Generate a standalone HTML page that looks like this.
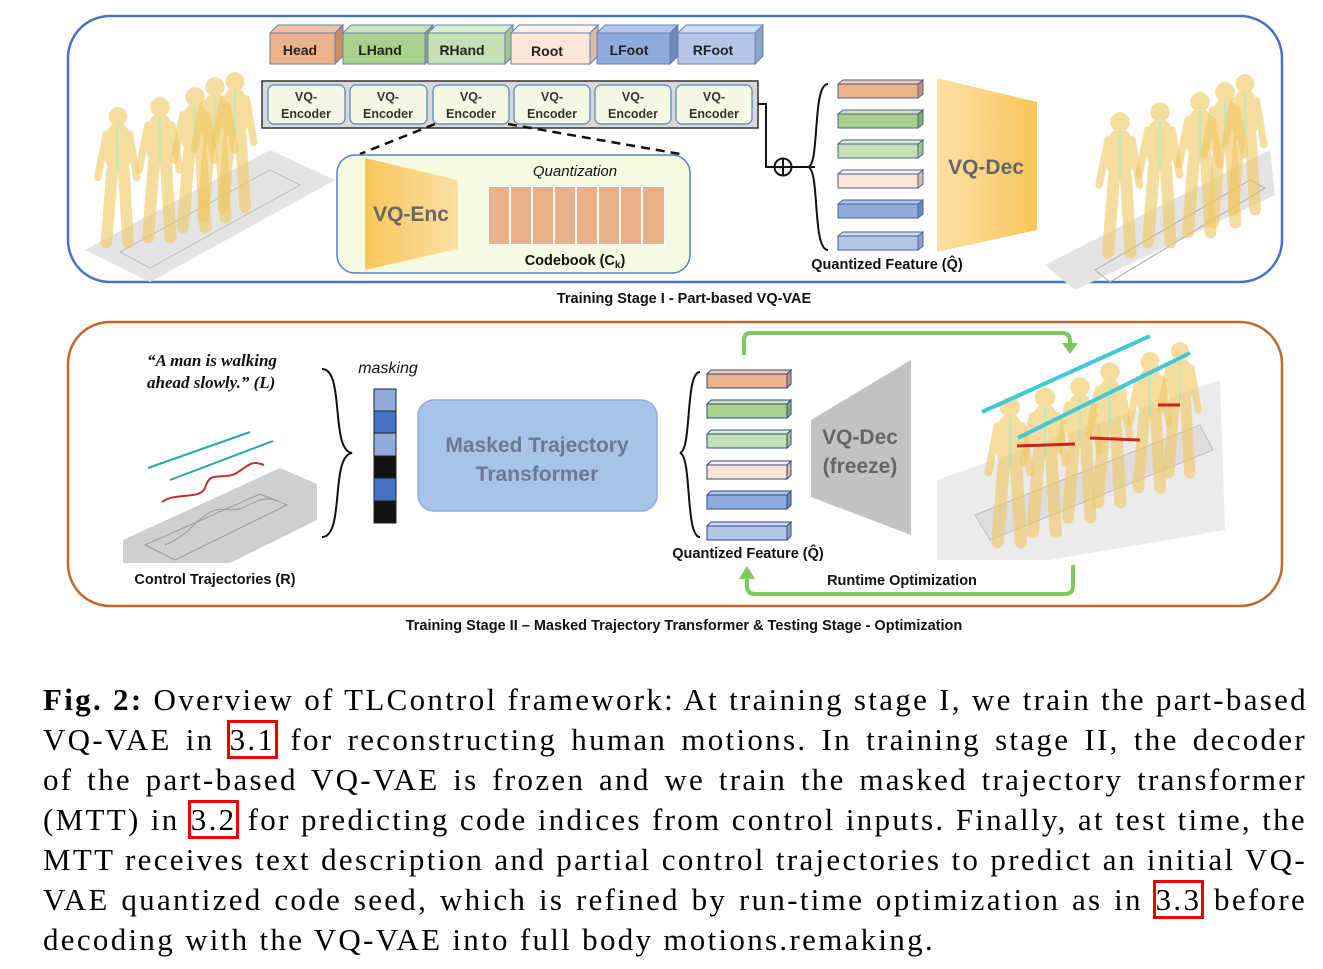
<!DOCTYPE html>
<html><head><meta charset="utf-8">
<style>
html,body{margin:0;padding:0;background:#fff;}
body{width:1323px;height:969px;position:relative;overflow:hidden;}
svg{position:absolute;left:0;top:0;}
svg text{font-family:"Liberation Sans",sans-serif;}
#cap{position:absolute;left:43px;top:680px;width:1264px;font-family:"Liberation Serif",serif;font-size:31px;line-height:40px;color:#000;letter-spacing:2.3px;}
#cap div{text-align:justify;text-align-last:justify;white-space:nowrap;height:40px;}
#cap div.last{text-align-last:left;}
.r{outline:3px solid #e00;outline-offset:-1px;padding:0 1px;}
</style></head><body>
<svg width="1323" height="680" viewBox="0 0 1323 680">
<defs>
<linearGradient id="og" x1="0" x2="1"><stop offset="0" stop-color="#f7c65a"/><stop offset="1" stop-color="#fbe0a6"/></linearGradient>
<g id="fig" opacity="0.6">
<circle cx="0" cy="8" r="6.5" fill="#f0c860"/>
<ellipse cx="0" cy="30" rx="10" ry="18" fill="#f0c860"/>
<line x1="-4" y1="45" x2="-8" y2="95" stroke="#f0c860" stroke-width="8" stroke-linecap="round"/>
<line x1="4" y1="45" x2="7" y2="95" stroke="#f0c860" stroke-width="8" stroke-linecap="round"/>
<line x1="-8" y1="20" x2="-14" y2="50" stroke="#f0c860" stroke-width="5" stroke-linecap="round"/>
<line x1="8" y1="20" x2="13" y2="50" stroke="#f0c860" stroke-width="5" stroke-linecap="round"/>
<line x1="0" y1="14" x2="0" y2="45" stroke="#9ed88a" stroke-width="1.5"/>
</g>
</defs>
<rect x="68" y="16" width="1214" height="266" rx="42" fill="#fff" stroke="#4a72c4" stroke-width="2.5"/>
<polygon points="85,250 270,150 335,180 150,282" fill="#e4e4e4"/>
<polygon points="120,252 270,170 300,185 150,268" fill="none" stroke="#bbb"/>
<use href="#fig" transform="translate(118,105) scale(1.45)"/>
<use href="#fig" transform="translate(160,95) scale(1.5)"/>
<use href="#fig" transform="translate(195,85) scale(1.5)"/>
<use href="#fig" transform="translate(215,75) scale(1.5)"/>
<use href="#fig" transform="translate(235,70) scale(1.45)"/>
<polygon points="1045,265 1270,150 1275,195 1075,290" fill="#e4e4e4"/>
<polygon points="1095,270 1250,180 1265,188 1110,282" fill="none" stroke="#aaa"/>
<use href="#fig" transform="translate(1120,110) scale(1.5)"/>
<use href="#fig" transform="translate(1160,100) scale(1.5)"/>
<use href="#fig" transform="translate(1200,90) scale(1.5)"/>
<use href="#fig" transform="translate(1225,80) scale(1.5)"/>
<use href="#fig" transform="translate(1245,72) scale(1.45)"/>
<g stroke="#6b7fa8" stroke-width="1">
<polygon points="270,33 278,25 343,25 335,33" fill="#f0c4a4"/><polygon points="335,33 343,25 343,56 335,64" fill="#c98d63"/><rect x="270" y="33" width="65" height="31" fill="#eab38a"/>
<polygon points="343,33 351,25 433,25 425,33" fill="#cde3bd"/><polygon points="425,33 433,25 433,56 425,64" fill="#84ad6a"/><rect x="343" y="33" width="82" height="31" fill="#a9d18e"/>
<polygon points="428,33 436,25 513,25 505,33" fill="#dcecd0"/><polygon points="505,33 513,25 513,56 505,64" fill="#a3c490"/><rect x="428" y="33" width="77" height="31" fill="#c5e0b4"/>
<polygon points="511,33 519,25 598,25 590,33" fill="#fdf1e8"/><polygon points="590,33 598,25 598,56 590,64" fill="#d8bca9"/><rect x="511" y="33" width="79" height="31" fill="#fbe5d6"/>
<polygon points="597,33 605,25 678,25 670,33" fill="#b3c5e8"/><polygon points="670,33 678,25 678,56 670,64" fill="#6d88bb"/><rect x="597" y="33" width="73" height="31" fill="#8faadc"/>
<polygon points="678,33 686,25 763,25 755,33" fill="#d0dcf0"/><polygon points="755,33 763,25 763,56 755,64" fill="#8ea3c8"/><rect x="678" y="33" width="77" height="31" fill="#b4c7e7"/>
</g>
<g font-weight="bold" font-size="14" text-anchor="middle" fill="#222">
<text x="300" y="55">Head</text><text x="380" y="55">LHand</text><text x="462" y="55">RHand</text><text x="547" y="56">Root</text><text x="629" y="55">LFoot</text><text x="713" y="55">RFoot</text>
</g>
<rect x="262" y="81" width="496" height="47" fill="#d9d9d9" stroke="#333" stroke-width="1.5"/>
<g fill="#f5f9e4" stroke="#5b7fc1" stroke-width="1.2">
<rect x="268" y="85" width="77" height="39" rx="6"/><rect x="350" y="85" width="77" height="39" rx="6"/><rect x="433" y="85" width="76" height="39" rx="6"/>
<rect x="514" y="85" width="76" height="39" rx="6"/><rect x="595" y="85" width="76" height="39" rx="6"/><rect x="676" y="85" width="76" height="39" rx="6"/>
</g>
<g font-weight="bold" font-size="12.5" text-anchor="middle" fill="#333">
<text x="306" y="101">VQ-</text><text x="306" y="118">Encoder</text>
<text x="388" y="101">VQ-</text><text x="388" y="118">Encoder</text>
<text x="471" y="101">VQ-</text><text x="471" y="118">Encoder</text>
<text x="552" y="101">VQ-</text><text x="552" y="118">Encoder</text>
<text x="633" y="101">VQ-</text><text x="633" y="118">Encoder</text>
<text x="714" y="101">VQ-</text><text x="714" y="118">Encoder</text>
</g>
<line x1="435" y1="124" x2="360" y2="154" stroke="#111" stroke-width="2.5" stroke-dasharray="9,6"/>
<line x1="508" y1="124" x2="680" y2="154" stroke="#111" stroke-width="2.5" stroke-dasharray="9,6"/>
<rect x="337" y="155" width="353" height="118" rx="18" fill="#f7fbe1" stroke="#5b7fc1" stroke-width="1.5"/>
<polygon points="365,158 458,180 458,249 365,270" fill="url(#og)"/>
<text x="411" y="221" font-size="21" font-weight="bold" fill="#666" text-anchor="middle">VQ-Enc</text>
<text x="575" y="176" font-size="15" font-style="italic" text-anchor="middle" fill="#111">Quantization</text>
<rect x="488" y="186" width="177" height="59" fill="#fff"/>
<g fill="#e9b08a"><rect x="489" y="187" width="20" height="57"/><rect x="511" y="187" width="20" height="57"/><rect x="533" y="187" width="20" height="57"/><rect x="555" y="187" width="20" height="57"/><rect x="577" y="187" width="20" height="57"/><rect x="599" y="187" width="20" height="57"/><rect x="621" y="187" width="20" height="57"/><rect x="643" y="187" width="21" height="57"/></g>
<text x="575" y="265" font-size="14.5" font-weight="bold" text-anchor="middle" fill="#111">Codebook (C<tspan font-size="10" dy="3">k</tspan><tspan dy="-3">)</tspan></text>
<polyline points="758,104 766,104 766,167 815,167" fill="none" stroke="#111" stroke-width="2"/>
<circle cx="783" cy="167" r="8.5" fill="#fff" stroke="#111" stroke-width="2"/>
<line x1="774.5" y1="167" x2="791.5" y2="167" stroke="#111" stroke-width="2"/><line x1="783" y1="158.5" x2="783" y2="175.5" stroke="#111" stroke-width="2"/>
<path d="M828,84 C812,84 820,165 808,167 C820,169 812,250 828,250" fill="none" stroke="#111" stroke-width="2"/>
<g stroke="#4a5f95" stroke-width="1">
<rect x="838" y="84" width="80" height="14" fill="#eab38a"/><polygon points="918,84 923,80 923,94 918,98" fill="#c99070"/><polygon points="838,84 843,80 923,80 918,84" fill="#f2cbb0"/>
<rect x="838" y="114" width="80" height="14" fill="#a9d18e"/><polygon points="918,114 923,110 923,124 918,128" fill="#84ad6a"/><polygon points="838,114 843,110 923,110 918,114" fill="#cde3bd"/>
<rect x="838" y="144" width="80" height="14" fill="#c5e0b4"/><polygon points="918,144 923,140 923,154 918,158" fill="#a3c490"/><polygon points="838,144 843,140 923,140 918,144" fill="#dcecd0"/>
<rect x="838" y="174" width="80" height="14" fill="#fbe5d6"/><polygon points="918,174 923,170 923,184 918,188" fill="#d8bca9"/><polygon points="838,174 843,170 923,170 918,174" fill="#fdf1e8"/>
<rect x="838" y="204" width="80" height="14" fill="#8faadc"/><polygon points="918,204 923,200 923,214 918,218" fill="#6d88bb"/><polygon points="838,204 843,200 923,200 918,204" fill="#b3c5e8"/>
<rect x="838" y="236" width="80" height="14" fill="#b4c7e7"/><polygon points="918,236 923,232 923,246 918,250" fill="#8ea3c8"/><polygon points="838,236 843,232 923,232 918,236" fill="#d0dcf0"/>
</g>
<text x="887" y="269" font-size="14.5" font-weight="bold" text-anchor="middle" fill="#111">Quantized Feature (Q̂)</text>
<polygon points="937,102 1037,78 1037,252 937,230" fill="url(#og)" transform="scale(-1,1) translate(-1974,0)"/>
<text x="986" y="174" font-size="21" font-weight="bold" fill="#666" text-anchor="middle">VQ-Dec</text>
<text x="684" y="303" font-size="14.5" font-weight="bold" text-anchor="middle" fill="#111">Training Stage I - Part-based VQ-VAE</text>

<rect x="68" y="322" width="1214" height="284" rx="42" fill="#fff" stroke="#c0692a" stroke-width="2.5"/>
<text x="147" y="366" font-size="17" font-weight="bold" font-style="italic" fill="#111" style="font-family:'Liberation Serif',serif">“A man is walking</text>
<text x="147" y="388" font-size="17" font-weight="bold" font-style="italic" fill="#111" style="font-family:'Liberation Serif',serif">ahead slowly.”  (L)</text>
<line x1="148" y1="468" x2="250" y2="432" stroke="#2aa6a0" stroke-width="2"/>
<line x1="170" y1="480" x2="273" y2="441" stroke="#2aa6a0" stroke-width="2"/>
<path d="M162,502 C175,492 200,500 205,488 C210,470 220,480 235,474 C250,465 250,460 264,465" fill="none" stroke="#c0302a" stroke-width="2"/>
<polygon points="123,540 280,468 317,484 317,520 230,563 123,563" fill="#cfcfcf"/>
<polygon points="145,545 260,494 287,505 175,560" fill="none" stroke="#999"/>
<path d="M165,545 C200,530 200,505 230,510 C250,510 255,495 275,500" fill="none" stroke="#999"/>
<text x="215" y="584" font-size="14.5" font-weight="bold" text-anchor="middle" fill="#111">Control Trajectories (R)</text>
<path d="M322,369 C345,369 330,450 352,453 C330,456 345,537 322,537" fill="none" stroke="#111" stroke-width="2"/>
<text x="388" y="373" font-size="16" font-style="italic" text-anchor="middle" fill="#111">masking</text>
<g stroke="#222" stroke-width="1">
<rect x="374" y="389" width="22" height="22" fill="#8faadc"/><rect x="374" y="411" width="22" height="22" fill="#4472c4"/><rect x="374" y="433" width="22" height="23" fill="#8faadc"/>
<rect x="374" y="456" width="22" height="22" fill="#111"/><rect x="374" y="478" width="22" height="23" fill="#4472c4"/><rect x="374" y="501" width="22" height="22" fill="#111"/>
</g>
<rect x="418" y="400" width="239" height="111" rx="16" fill="#a8c3e8" stroke="#8faadc" stroke-width="1.5"/>
<text x="537" y="452" font-size="21" font-weight="bold" text-anchor="middle" fill="#6a7a92">Masked Trajectory</text>
<text x="537" y="481" font-size="21" font-weight="bold" text-anchor="middle" fill="#6a7a92">Transformer</text>
<path d="M700,372 C685,372 692,450 680,453 C692,456 685,537 700,537" fill="none" stroke="#111" stroke-width="2"/>
<g stroke="#2f4a8a" stroke-width="1">
<rect x="707" y="374" width="80" height="14" fill="#eab38a"/><polygon points="787,374 791,370 791,384 787,388" fill="#c99070"/><polygon points="707,374 711,370 791,370 787,374" fill="#f2cbb0"/>
<rect x="707" y="404" width="80" height="14" fill="#a9d18e"/><polygon points="787,404 791,400 791,414 787,418" fill="#84ad6a"/><polygon points="707,404 711,400 791,400 787,404" fill="#cde3bd"/>
<rect x="707" y="434" width="80" height="14" fill="#c5e0b4"/><polygon points="787,434 791,430 791,444 787,448" fill="#a3c490"/><polygon points="707,434 711,430 791,430 787,434" fill="#dcecd0"/>
<rect x="707" y="465" width="80" height="14" fill="#fbe5d6"/><polygon points="787,465 791,461 791,475 787,479" fill="#d8bca9"/><polygon points="707,465 711,461 791,461 787,465" fill="#fdf1e8"/>
<rect x="707" y="495" width="80" height="14" fill="#8faadc"/><polygon points="787,495 791,491 791,505 787,509" fill="#6d88bb"/><polygon points="707,495 711,491 791,491 787,495" fill="#b3c5e8"/>
<rect x="707" y="526" width="80" height="14" fill="#b4c7e7"/><polygon points="787,526 791,522 791,536 787,540" fill="#8ea3c8"/><polygon points="707,526 711,522 791,522 787,526" fill="#d0dcf0"/>
</g>
<text x="748" y="558" font-size="14.5" font-weight="bold" text-anchor="middle" fill="#111">Quantized Feature (Q̂)</text>
<polygon points="811,420 911,360 911,535 811,497" fill="#c2c2c2"/>
<text x="860" y="444" font-size="21" font-weight="bold" text-anchor="middle" fill="#666">VQ-Dec</text>
<text x="860" y="473" font-size="21" font-weight="bold" text-anchor="middle" fill="#666">(freeze)</text>
<path d="M744,355 L744,340 Q744,333 751,333 L1062,333 Q1070,333 1070,341 L1070,345" fill="none" stroke="#7dc95e" stroke-width="4"/>
<polygon points="1062,343 1078,343 1070,354" fill="#7dc95e"/>
<path d="M1073,565 L1073,586 Q1073,594 1065,594 L755,594 Q747,594 747,586 L747,578" fill="none" stroke="#7dc95e" stroke-width="4"/>
<polygon points="739,579 755,579 747,566" fill="#7dc95e"/>
<text x="902" y="585" font-size="14.5" font-weight="bold" text-anchor="middle" fill="#111">Runtime Optimization</text>
<polygon points="937,480 1220,380 1225,530 1050,560 937,560" fill="#ebebeb"/>
<polygon points="975,515 1200,425 1213,450 990,540" fill="#ddd" stroke="#bbb"/>
<use href="#fig" transform="translate(1010,395) scale(1.55)"/>
<use href="#fig" transform="translate(1045,385) scale(1.55)"/>
<use href="#fig" transform="translate(1080,375) scale(1.5)"/>
<use href="#fig" transform="translate(1110,360) scale(1.5)"/>
<use href="#fig" transform="translate(1150,350) scale(1.45)"/>
<use href="#fig" transform="translate(1180,340) scale(1.4)"/>
<line x1="982" y1="412" x2="1150" y2="336" stroke="#40c8d8" stroke-width="4"/>
<line x1="1018" y1="438" x2="1190" y2="353" stroke="#40c8d8" stroke-width="4"/>
<line x1="1017" y1="446" x2="1075" y2="444" stroke="#d02020" stroke-width="3"/>
<line x1="1090" y1="438" x2="1140" y2="440" stroke="#d02020" stroke-width="3"/>
<line x1="1158" y1="405" x2="1180" y2="405" stroke="#d02020" stroke-width="3"/>
<text x="684" y="630" font-size="14.5" font-weight="bold" text-anchor="middle" fill="#111">Training Stage II – Masked Trajectory Transformer &amp; Testing Stage - Optimization</text>
</svg>
<div id="cap">
<div><b>Fig. 2:</b> Overview of TLControl framework: At training stage I, we train the part-based</div>
<div>VQ-VAE in <span class="r">3.1</span> for reconstructing human motions. In training stage II, the decoder</div>
<div>of the part-based VQ-VAE is frozen and we train the masked trajectory transformer</div>
<div>(MTT) in <span class="r">3.2</span> for predicting code indices from control inputs. Finally, at test time, the</div>
<div>MTT receives text description and partial control trajectories to predict an initial VQ-</div>
<div>VAE quantized code seed, which is refined by run-time optimization as in <span class="r">3.3</span> before</div>
<div class="last">decoding with the VQ-VAE into full body motions.remaking.</div>
</div>
</body></html>
